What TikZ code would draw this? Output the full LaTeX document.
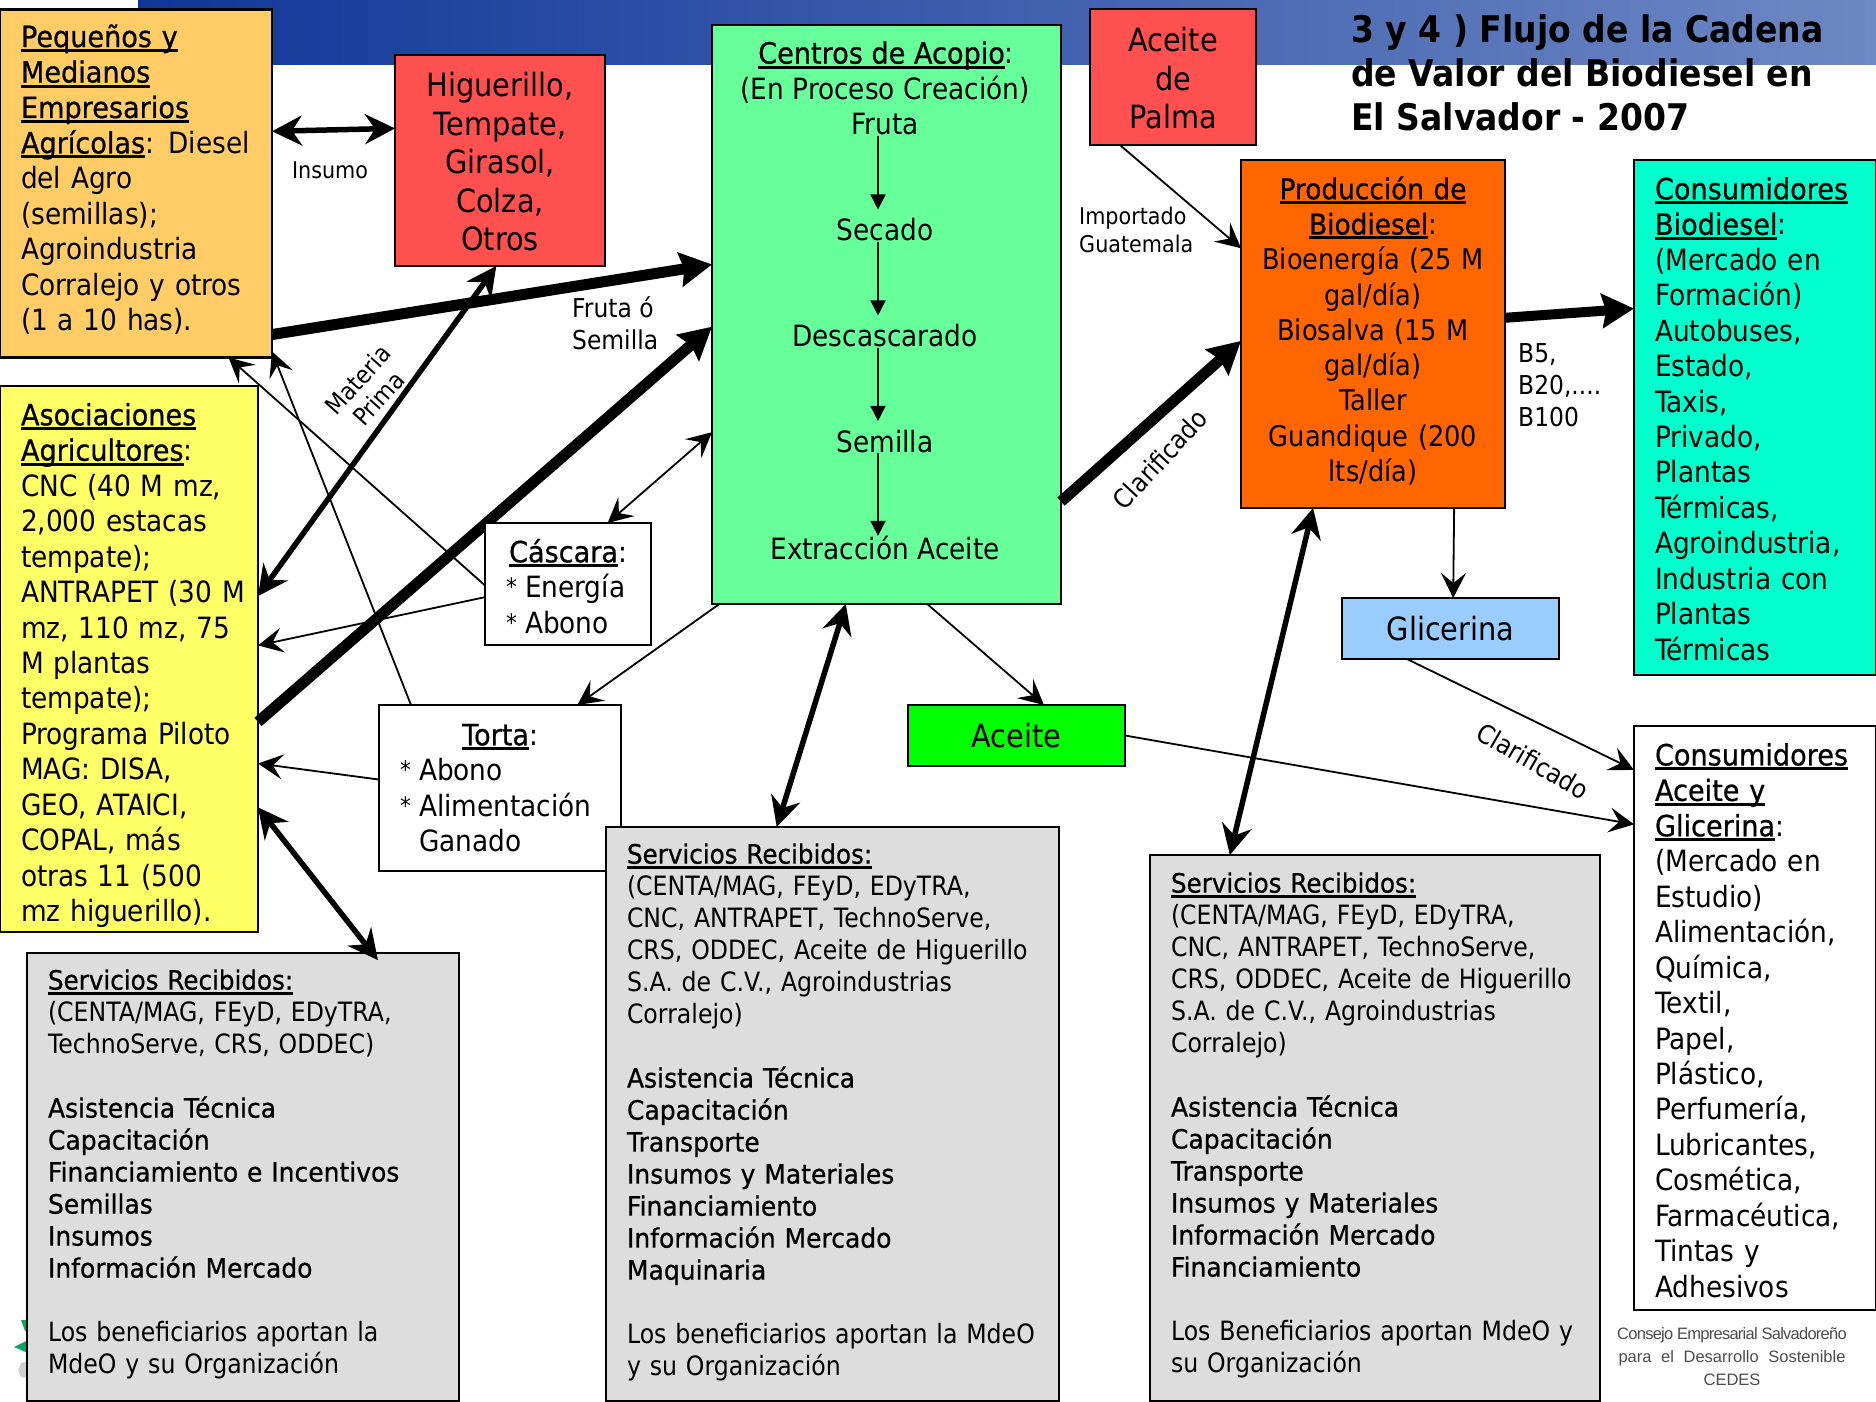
\documentclass[tikz,border=0pt]{standalone}
\usepackage{fontspec}
\setmainfont{DejaVu Sans}[FakeStretch=0.9]
\newfontfamily\cedesfont{Liberation Sans}
\usetikzlibrary{arrows.meta}
\newcommand{\negro}[1]{{\addfontfeature{FakeBold=0.7,FakeStretch=0.925}#1}}
\newcommand{\lista}[1]{{\addfontfeature{FakeBold=0.7,FakeStretch=0.94}#1}}
\newcommand{\lnk}[1]{\leavevmode\setbox0=\hbox{\negro{#1}}\rlap{\rule[-5pt]{\wd0}{3pt}}\box0}
\newcommand{\alza}[1]{\rule[-#1]{0pt}{#1}}
\newcommand{\vineta}{\leavevmode\hbox to 19pt{\raisebox{2pt}{\fontsize{24}{24}\selectfont *}\hfill}}
\definecolor{banLeft}{HTML}{0F3797}
\definecolor{banRight}{HTML}{6E88C4}
\definecolor{naranja}{HTML}{FFCC66}
\definecolor{rojo}{HTML}{FF5050}
\definecolor{verde}{HTML}{66FF99}
\definecolor{oscuro}{HTML}{FF6600}
\definecolor{turquesa}{HTML}{00FFCC}
\definecolor{celeste}{HTML}{99CCFF}
\definecolor{amarillo}{HTML}{FFFF66}
\definecolor{gris}{HTML}{DDDDDD}
\definecolor{logoverde}{HTML}{0AA860}
\tikzset{
  caja/.style={draw,line width=2.4pt,outer sep=0pt,anchor=north west,inner xsep=21pt,inner ysep=0pt,align=left,font=\fontsize{29.3}{35.45}\selectfont},
  cajac/.style={caja,align=center},
  grande/.style={font=\fontsize{32}{38.4}\selectfont},
  servicio/.style={caja,fill=gris,font=\fontsize{26.6}{32}\selectfont\addfontfeature{FakeStretch=0.888}},
  paso/.style={inner sep=0pt,font=\fontsize{29.3}{35.3}\selectfont},
  etiqueta/.style={inner sep=0pt,align=left,font=\fontsize{23}{28}\selectfont},
  etiquetag/.style={etiqueta,font=\fontsize{26}{32}\selectfont},
  fino/.style={-{Stealth[length=25pt,width=25pt,inset=10pt]},line width=1.8pt},
  interno/.style={-{Stealth[length=15pt,width=15pt,inset=0pt]},line width=1.5pt,shorten >=9pt},
  medio/.style={{Stealth[length=30pt,width=30pt,inset=10pt]}-{Stealth[length=30pt,width=30pt,inset=10pt]},line width=5.5pt},
  pesado/.style={-{Stealth[length=32pt,width=34pt,inset=4pt]},line width=11pt}
}
\begin{document}
\begin{tikzpicture}[x=1pt,y=-1pt]
    \useasboundingbox (0,0) rectangle (1876,1402);
    \shade[left color=banLeft,right color=banRight] (138,0) rectangle (1876,65);
    % logo fragment
    \fill[logoverde] (21,1320) -- (28,1320) -- (28,1331) -- (25,1331) -- cycle;
    \fill[logoverde] (14,1347) -- (28,1340) -- (28,1353) -- cycle;
    \fill[black!18] (21,1363) -- (28,1361) -- (28,1378) -- (21,1377) -- (18,1370) -- cycle;
    % boxes
    \node[caja,fill=naranja,text width=230pt,minimum height=348pt] (peq) at (0,9.5) {\lnk{Pequeños y}\\\lnk{Medianos}\\\lnk{Empresarios}\\\lnk{Agrícolas}: Diesel\\del Agro\\(semillas);\\Agroindustria\\Corralejo y otros\\(1 a 10 has).\alza{12pt}};
    \node[cajac,grande,fill=rojo,text width=168pt,minimum height=211pt] (hig) at (395,55) {\rule{0pt}{27pt}Higuerillo,\\Tempate,\\Girasol,\\Colza,\\Otros};
    \node[caja,fill=amarillo,text width=216pt,minimum height=546pt] (aso) at (0,386) {\rule{0pt}{35pt}\lnk{Asociaciones}\\\lnk{Agricultores}:\\CNC (40 M mz,\\2,000 estacas\\tempate);\\ANTRAPET~(30~M\\mz, 110 mz, 75\\M plantas\\tempate);\\Programa Piloto\\MAG: DISA,\\GEO, ATAICI,\\COPAL, más\\otras 11 (500\\mz higuerillo).};
    \node[caja,fill=verde,text width=307pt,minimum height=579pt] (cen) at (712,25) {};
    \node[cajac,grande,fill=rojo,text width=124pt,minimum height=136pt] (pal) at (1090,9) {\rule{0pt}{27pt}Aceite\\de\\Palma};
    \node[cajac,fill=oscuro,inner xsep=8pt,text width=248pt,minimum height=348pt,font=\fontsize{28.5}{35.3}\selectfont] (prod) at (1241,160) {\lnk{Producción de}\\\lnk{Biodiesel}:\\Bioenergía (25 M\\gal/día)\\Biosalva (15 M\\gal/día)\\Taller\\Guandique (200\\lts/día)\alza{10pt}};
    \node[caja,fill=turquesa,text width=200pt,minimum height=515pt] (cbio) at (1634,160) {\rule{0pt}{25pt}\lnk{Consumidores}\\\lnk{Biodiesel}:\\(Mercado en\\Formación)\\Autobuses,\\Estado,\\Taxis,\\Privado,\\Plantas\\Térmicas,\\Agroindustria,\\Industria con\\Plantas\\Térmicas};
    \node[cajac,grande,fill=celeste,text width=175pt,minimum height=61pt] (gli) at (1342,598) {Glicerina};
    \node[cajac,grande,fill=green,text width=175pt,minimum height=61pt] (acei) at (908,705) {Aceite};
    \node[caja,fill=white,text width=200pt,minimum height=584pt] (cace) at (1634,726) {\rule{0pt}{27pt}\lnk{Consumidores}\\\lnk{Aceite y}\\\lnk{Glicerina}:\\(Mercado en\\Estudio)\\Alimentación,\\Química,\\Textil,\\Papel,\\Plástico,\\Perfumería,\\Lubricantes,\\Cosmética,\\Farmacéutica,\\Tintas y\\Adhesivos};
    \node[caja,fill=white,text width=200pt,minimum height=166pt] (tor) at (379,705) {\hfill\lnk{Torta}:\hfill\null\\\vineta Abono\\\vineta Alimentación\\\hspace*{19pt}Ganado};
    % inner flow
    \node[paso] (centxt) at (886,55.5) {\lnk{Centros de Acopio}:};
    \node[paso] (cenb) at (885,89.5) {(En Proceso Creación)};
    \node[paso] (fruta) at (885,124.5) {Fruta};
    \node[paso] (secado) at (885,230) {Secado};
    \node[paso] (desc) at (885,336) {Descascarado};
    \node[paso] (semilla) at (885,441.5) {Semilla};
    \node[paso] (extr) at (885,548) {Extracción Aceite};
    \draw[interno] ([xshift=-7pt]fruta.south) -- ([xshift=-7pt]secado.north);
    \draw[interno] ([xshift=-7pt]secado.south) -- ([xshift=-7pt]desc.north);
    \draw[interno] ([xshift=-7pt]desc.south) -- ([xshift=-7pt]semilla.north);
    \draw[interno,shorten >=0pt] ([xshift=-7pt]semilla.south) -- ([xshift=-7pt]extr.north);
    % flows
    \draw[medio] (peq.21.35) -- (hig.163.8);
    \draw[pesado] (peq.-48.2) -- (cen.164.77);
    \draw[pesado] (aso.-26.7) -- (cen.184.75);
    \draw[pesado] (cen.-47.6) -- (prod.183.9);
    \draw[pesado,line width=10pt] (prod.7.34) -- (cbio.138.9);
    \node[caja,fill=white,text width=124pt,minimum height=122pt] (cas) at (485,523) {\rule{0pt}{28pt}\hfill\lnk{Cáscara}:\hfill\null\\\vineta Energía\\\vineta Abono};
    \node[servicio,text width=390pt,minimum height=448pt] (s1) at (27,953) {\lnk{Servicios Recibidos:}\\(CENTA/MAG, FEyD, EDyTRA,\\TechnoServe, CRS, ODDEC)\\~\\\lista{Asistencia Técnica}\\\lista{Capacitación}\\\lista{Financiamiento e Incentivos}\\\lista{Semillas}\\\lista{Insumos}\\\lista{Información Mercado}\\~\\Los beneficiarios aportan la\\MdeO y su Organización\alza{11pt}};
    \node[servicio,text width=411pt,minimum height=574pt] (s2) at (606,827) {\lnk{Servicios Recibidos:}\\(CENTA/MAG, FEyD, EDyTRA,\\CNC, ANTRAPET, TechnoServe,\\CRS, ODDEC, Aceite de Higuerillo\\S.A. de C.V., Agroindustrias\\Corralejo)\\~\\\lista{Asistencia Técnica}\\\lista{Capacitación}\\\lista{Transporte}\\\lista{Insumos y Materiales}\\\lista{Financiamiento}\\\lista{Información Mercado}\\\lista{Maquinaria}\\~\\Los beneficiarios aportan la MdeO\\y su Organización\alza{9pt}};
    \node[servicio,text width=408pt,minimum height=546pt] (s3) at (1150,855) {\lnk{Servicios Recibidos:}\\(CENTA/MAG, FEyD, EDyTRA,\\CNC, ANTRAPET, TechnoServe,\\CRS, ODDEC, Aceite de Higuerillo\\S.A. de C.V., Agroindustrias\\Corralejo)\\~\\\lista{Asistencia Técnica}\\\lista{Capacitación}\\\lista{Transporte}\\\lista{Insumos y Materiales}\\\lista{Información Mercado}\\\lista{Financiamiento}\\~\\Los Beneficiarios aportan MdeO y\\su Organización\alza{11pt}};
    \draw[medio] (hig.268.4) -- (aso.26);
    \draw[medio,shorten >=-9pt] (aso.-49.9) -- (s1.60.9);
    \draw[medio] (cen.262.7) -- (s2.101.9);
    \draw[medio] (prod.251.86) -- (s3.118.3);
    \draw[fino] (cas.181.4) -- (peq.-62.4);
    \draw[fino] (tor.137.6) -- (peq.-51.9);
    \draw[fino] (cas.189.6) -- (aso.6.6);
    \draw[fino] (tor.176.7) -- (aso.-39.7);
    \draw[fino] (cen.240.9) -- (tor.47.1);
    \draw[fino,{Stealth[length=25pt,width=25pt,inset=10pt]}-{Stealth[length=25pt,width=25pt,inset=10pt]}] (cen.214.4) -- (cas.57.4);
    \draw[fino] (cen.-82) -- (acei.48);
    \draw[fino] (pal.232.1) -- (prod.147.5);
    \draw[fino] (prod.-65.9) -- (gli.85.3);
    \draw[fino] (gli.215.7) -- (cace.116.95);
    \draw[fino] (acei.0) -- (cace.122.2);
    % labels
    \node[etiqueta] (insumo) at (330,170) {Insumo};
    \node[etiquetag,anchor=west] (fruto) at (572,323) {Fruta ó\\Semilla};
    \node[etiqueta,rotate=48,align=center,font=\fontsize{24.5}{28}\selectfont] (materia) at (368,389) {Materia\\Prima};
    \node[etiqueta,anchor=west] (import) at (1079,230) {Importado\\Guatemala};
    \node[etiquetag,rotate=47] (clar) at (1160,459) {Clarificado};
    \node[etiquetag,anchor=west] (mezcla) at (1518,385) {B5,\\B20,....\\B100};
    \node[etiquetag,rotate=-30] (clarb) at (1533,761) {Clarificado};
    % title and footer
    \node[anchor=north west,inner sep=0pt,align=left,font=\fontsize{36.7}{44.3}\selectfont\bfseries] (titulo) at (1351,14) {3 y 4 ) Flujo de la Cadena\\de Valor del Biodiesel en\\El Salvador - 2007};
    \node[anchor=north,inner sep=0pt,align=center,text=black!70,font=\fontsize{16.5}{23.4}\selectfont\cedesfont] (cedes) at (1732,1327) {{\addfontfeature{LetterSpace=-4.5}Consejo Empresarial Salvadoreño}\\\makebox[227pt][s]{para el Desarrollo Sostenible}\\CEDES};
\end{tikzpicture}
\end{document}
